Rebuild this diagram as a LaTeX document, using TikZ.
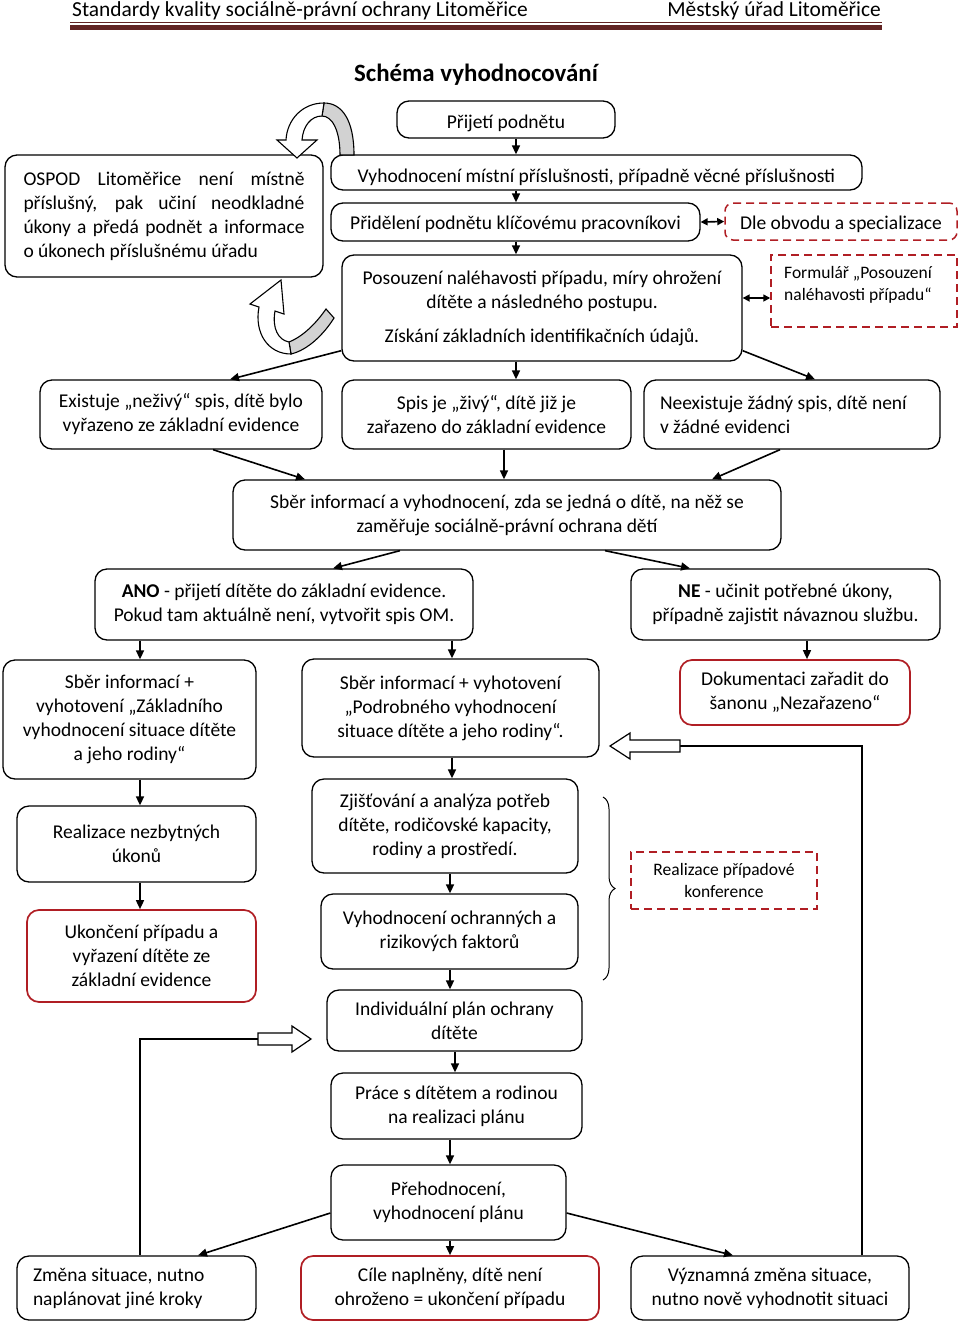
\documentclass[tikz,border=0pt]{standalone}
\usepackage{fontspec}
\setmainfont{Carlito}
\usetikzlibrary{arrows.meta,decorations.pathreplacing,calc}
\definecolor{hdr}{HTML}{622423}
\definecolor{myred}{RGB}{176,30,36}
\newcommand\myfont{\fontsize{19.5}{24}\selectfont}
\newcommand\mysmall{\fontsize{17.5}{22}\selectfont}
\newcommand\myhead{\fontsize{21.4}{24}\selectfont}
\newcommand\mytitle{\fontsize{24.9}{28}\selectfont\bfseries}
\newcommand\vlink[3]{\draw[arr] (#1 |- #2.south) -- (#1 |- #3.north);}
\hyphenpenalty=10000
\exhyphenpenalty=10000
\tikzset{
 base/.style={draw, line width=1.3pt, rounded corners=12pt, align=center, inner sep=0pt, font=\myfont},
 redbox/.style={base, draw=myred, line width=1.7pt},
 dashbox/.style={draw=myred, line width=1.5pt, dash pattern=on 8pt off 5pt, inner sep=0pt, align=center, font=\mysmall},
 arr/.style={line width=1.6pt, -{Triangle[length=9pt,width=8pt]}},
 dbl/.style={line width=1.6pt, {Triangle[length=7pt,width=7pt]}-{Triangle[length=7pt,width=7pt]}},
 conn/.style={line width=1.5pt},
 hollow/.style={draw, line width=1.2pt, fill=white},
 lowtext/.style={text height=#1, text depth=0pt},
}
\begin{document}
\begin{tikzpicture}[x=1pt,y=-1pt]
\useasboundingbox (0,0) rectangle (960,1323);
% header
\node[anchor=base west, font=\myhead, inner sep=0pt] (h1) at (72,16) {Standardy kvality sociálně-právní ochrany Litoměřice};
\node[anchor=base east, font=\myhead, inner sep=0pt] (h2) at (881,16) {Městský úřad Litoměřice};
\draw[hdr, line width=1pt] (70,22.5) -- (882,22.5);
\fill[hdr] (70,25) rectangle (882,30);
\node[font=\mytitle, inner sep=0pt] (title) at (476,75) {Schéma vyhodnocování};

% nodes
\node[base, lowtext=17pt, minimum width=218pt, minimum height=37pt] (prijeti) at (506,119.5) {Přijetí podnětu};
\node[base, lowtext=19pt, minimum width=531pt, minimum height=35pt] (vyhod) at (596.5,172.5) {Vyhodnocení místní příslušnosti, případně věcné příslušnosti};
\node[base, minimum width=318pt, minimum height=122pt, align=flush left, text width=281pt] (ospod) at (164,216) {%
\makebox[281pt][s]{OSPOD Litoměřice není místně}\\
\makebox[281pt][s]{příslušný, pak učiní neodkladné}\\
\makebox[281pt][s]{úkony a předá podnět a informace}\\
o úkonech příslušnému úřadu};
\node[base, lowtext=14pt, minimum width=369pt, minimum height=38pt] (prid) at (515.5,222) {Přidělení podnětu klíčovému pracovníkovi};
\node[dashbox, lowtext=15pt, rounded corners=8pt, font=\myfont, minimum width=232pt, minimum height=37pt] (dle) at (841,221.5) {Dle obvodu a specializace};
\node[base, minimum width=400pt, minimum height=106pt] (posouz) at (542,308) {Posouzení naléhavosti případu, míry ohrožení\\dítěte a následného postupu.\\[10pt]Získání základních identifikačních údajů.};
\node[dashbox, minimum width=186pt, minimum height=72pt] (form) at (864,291) {};
\node[anchor=west, align=flush left, font=\mysmall, inner sep=0pt] (formtxt) at (784,285) {Formulář „Posouzení\\naléhavosti případu“};

\node[base, minimum width=282pt, minimum height=69pt] (exist) at (181,414.5) {Existuje „neživý“ spis, dítě bylo\\vyřazeno ze základní evidence};
\node[base, minimum width=289pt, minimum height=69pt] (spis) at (486.5,414.5) {Spis je „živý“, dítě již je\\zařazeno do základní evidence};
\node[base, minimum width=296pt, minimum height=69pt, align=flush left, text width=264pt] (neex) at (792,414.5) {Neexistuje žádný spis, dítě není\\v žádné evidenci};

\node[base, minimum width=548pt, minimum height=70pt] (sber) at (507,515) {Sběr informací a vyhodnocení, zda se jedná o dítě, na něž se\\zaměřuje sociálně-právní ochrana dětí};

\node[base, minimum width=378pt, minimum height=71pt] (ano) at (284,604.5) {\textbf{ANO} - přijetí dítěte do základní evidence.\\Pokud tam aktuálně není, vytvořit spis OM.};
\node[base, minimum width=309pt, minimum height=71pt] (ne) at (785.5,604.5) {\textbf{NE} - učinit potřebné úkony,\\případně zajistit návaznou službu.};

\node[base, minimum width=253pt, minimum height=119pt] (zakl) at (129.5,719.5) {Sběr informací +\\vyhotovení „Základního\\vyhodnocení situace dítěte\\a jeho rodiny“};
\node[base, minimum width=297pt, minimum height=98pt] (podr) at (450.5,708) {Sběr informací + vyhotovení\\„Podrobného vyhodnocení\\situace dítěte a jeho rodiny“.};
\node[redbox, minimum width=230pt, minimum height=65pt] (dok) at (795,692.5) {Dokumentaci zařadit do\\šanonu „Nezařazeno“};

\node[base, minimum width=239pt, minimum height=76pt] (realiz) at (136.5,844) {Realizace nezbytných\\úkonů};
\node[redbox, minimum width=229pt, minimum height=92pt] (ukon) at (141.5,956) {Ukončení případu a\\vyřazení dítěte ze\\základní evidence};

\node[base, minimum width=266pt, minimum height=94pt] (zjist) at (445,826) {Zjišťování a analýza potřeb\\dítěte, rodičovské kapacity,\\rodiny a prostředí.};
\node[base, minimum width=257pt, minimum height=75pt] (ochr) at (449.5,931.5) {Vyhodnocení ochranných a\\rizikových faktorů};
\node[base, minimum width=255pt, minimum height=61pt] (ip) at (454.5,1020.5) {Individuální plán ochrany\\dítěte};
\node[base, minimum width=251pt, minimum height=66pt] (prace) at (456.5,1106) {Práce s dítětem a rodinou\\na realizaci plánu};
\node[base, minimum width=235pt, minimum height=75pt] (preh) at (448.5,1202.5) {Přehodnocení,\\vyhodnocení plánu};

\node[dashbox, minimum width=186pt, minimum height=57pt] (konf) at (724,880.5) {Realizace případové\\konference};

\node[base, minimum width=239pt, minimum height=64pt, align=flush left, text width=207pt] (zmena) at (136.5,1288) {Změna situace, nutno\\naplánovat jiné kroky};
\node[redbox, minimum width=298pt, minimum height=64pt] (cile) at (450,1288) {Cíle naplněny, dítě není\\ohroženo = ukončení případu};
\node[base, minimum width=278pt, minimum height=64pt] (vyzn) at (770,1288) {Významná změna situace,\\nutno nově vyhodnotit situaci};

% x guides
\coordinate (x516) at (516,0);
\coordinate (x504) at (504,0);
\coordinate (x140) at (140,0);
\coordinate (x452) at (452,0);
\coordinate (x807) at (807,0);
\coordinate (x450) at (450,0);
\coordinate (x455) at (455,0);

\vlink{x516}{prijeti}{vyhod}
\vlink{x516}{vyhod}{prid}
\vlink{x516}{prid}{posouz}
\vlink{x516}{posouz}{spis}
\vlink{x504}{spis}{sber}
\vlink{x140}{ano}{zakl}
\vlink{x452}{ano}{podr}
\vlink{x807}{ne}{dok}
\vlink{x140}{zakl}{realiz}
\vlink{x140}{realiz}{ukon}
\vlink{x452}{podr}{zjist}
\vlink{x450}{zjist}{ochr}
\vlink{x450}{ochr}{ip}
\vlink{x455}{ip}{prace}
\vlink{x450}{prace}{preh}
\vlink{x450}{preh}{cile}

\draw[arr] ([yshift=11pt]posouz.south west) -- ([xshift=49pt]exist.north);
\draw[arr] ([yshift=11pt]posouz.south east) -- ([xshift=23pt]neex.north);
\draw[arr] ([xshift=32pt]exist.south) -- ([xshift=-202pt]sber.north);
\draw[arr] ([xshift=-12pt]neex.south) -- ([xshift=205pt]sber.north);
\draw[arr] ([xshift=-107pt]sber.south) -- ([xshift=49pt]ano.north);
\draw[arr] ([xshift=98pt]sber.south) -- ([xshift=-95.5pt]ne.north);
\draw[arr] ([yshift=-10.5pt]preh.west) -- ([xshift=61.5pt]zmena.north);
\draw[arr] ([yshift=-10.5pt]preh.east) -- ([xshift=-37pt]vyzn.north);

\draw[dbl] (prid.east) -- (dle.west);
\path ([yshift=10pt]posouz.east) coordinate (pe);
\draw[dbl] (pe) -- (pe -| form.west);

% feedback right
\coordinate (fr1) at (862,746);
\coordinate (fr2) at (680,746);
\draw[conn] (fr1 |- vyzn.north) -- (fr1) -- (fr2);
\draw[hollow] (680,740) -- (630,740) -- (630,733) -- (610,746) -- (630,759) -- (630,752) -- (680,752) -- cycle;
% feedback left
\coordinate (fl1) at (140,1039);
\coordinate (fl2) at (258,1039);
\draw[conn] (fl1 |- zmena.north) -- (fl1) -- (fl2);
\draw[hollow] (258,1033) -- (292,1033) -- (292,1026) -- (311,1039) -- (292,1052) -- (292,1045) -- (258,1045) -- cycle;

% brace
\draw[line width=1pt, decorate, decoration={brace, amplitude=12pt}] (603,797) -- (603,980);

% curved arrow top
\filldraw[fill=gray!35, line width=1.1pt] (354,155) .. controls (354,120) and (342,103) .. (324,103) -- (322,116) .. controls (332,116) and (340,130) .. (340,155) -- cycle;
\filldraw[fill=white, line width=1.1pt] (324,103) .. controls (302,103) and (287,120) .. (286,140) -- (277,140) -- (297,158) -- (317,140) -- (302,140) .. controls (303,126) and (311,116) .. (322,116) -- cycle;
% curved arrow bottom
\filldraw[fill=gray!35, line width=1.1pt] (291,354) .. controls (308,350) and (324,334) .. (334,318) -- (326,309) .. controls (317,322) and (304,336) .. (289,342) -- cycle;
\filldraw[fill=white, line width=1.1pt] (259,307) .. controls (254,333) and (268,354) .. (291,354) -- (289,342) .. controls (278,340) and (272,328) .. (275,311) -- (284,314) -- (281,280) -- (250,304) -- cycle;
\end{tikzpicture}
\end{document}
